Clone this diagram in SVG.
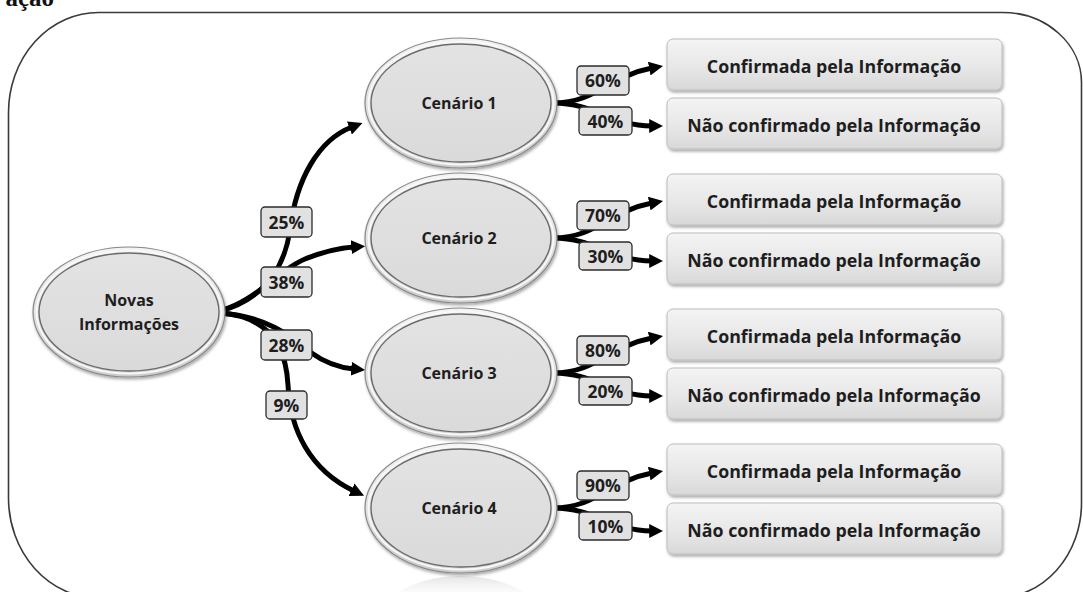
<svg xmlns="http://www.w3.org/2000/svg" xmlns:xlink="http://www.w3.org/1999/xlink" width="1083" height="592" viewBox="0 0 1083 592">
  <style>
    .frame { fill: none; stroke: #3a3a3a; stroke-width: 1.6; }
    .lbl { font-family: "Open Sans", "Liberation Sans", sans-serif; font-weight: 700; fill: #1e1e1e; text-anchor: middle; }
    .node-t { font-size: 16px; }
    .box-t { font-size: 17.8px; }
    .pct-t { font-size: 17.5px; }
    .box { fill: url(#boxGrad); stroke: #bcbcbc; stroke-width: 1; }
    .pct { fill: #e1e1e1; stroke: #2b2b2b; stroke-width: 1.3; }
    .conn { fill: none; stroke: #000; stroke-width: 5; stroke-linecap: butt; marker-end: url(#arrow); }
  </style>
  <defs>
    <linearGradient id="ringGrad" x1="0" y1="0" x2="0" y2="1">
      <stop offset="0" stop-color="#f4f4f4"/>
      <stop offset="1" stop-color="#cdcdcd"/>
    </linearGradient>
    <linearGradient id="coreGrad" x1="0" y1="0" x2="0" y2="1">
      <stop offset="0" stop-color="#e3e3e3"/>
      <stop offset="1" stop-color="#dadada"/>
    </linearGradient>
    <linearGradient id="boxGrad" x1="0" y1="0" x2="0" y2="1">
      <stop offset="0" stop-color="#f4f4f4"/>
      <stop offset="0.6" stop-color="#e6e6e6"/>
      <stop offset="1" stop-color="#d8d8d8"/>
    </linearGradient>
    <linearGradient id="reflGrad" x1="0" y1="0" x2="0" y2="1">
      <stop offset="0" stop-color="#d8d8d8" stop-opacity="0.7"/>
      <stop offset="0.2" stop-color="#ffffff" stop-opacity="0"/>
    </linearGradient>
    <filter id="shadow" x="-10%" y="-10%" width="125%" height="130%">
      <feDropShadow dx="1" dy="2" stdDeviation="1.4" flood-color="#000" flood-opacity="0.35"/>
    </filter>
    <marker id="arrow" viewBox="0 0 10 10" refX="2" refY="5" markerWidth="14" markerHeight="14" markerUnits="userSpaceOnUse" orient="auto">
      <path d="M0,0 L10,5 L0,10 z" fill="#000"/>
    </marker>
    <!-- double-ring oval used by every node -->
    <g id="bubble">
      <ellipse rx="96" ry="65" fill="url(#ringGrad)" stroke="#8a8a8a" stroke-width="1.2"/>
      <ellipse rx="92.5" ry="61.5" fill="none" stroke="#f8f8f8" stroke-width="2"/>
      <ellipse rx="90" ry="59" fill="url(#coreGrad)" stroke="#6b6b6b" stroke-width="1.4"/>
    </g>
  </defs>

  <rect width="1083" height="592" fill="#fff"/>

  <!-- caption fragment at the top edge -->
  <text x="54" y="6" text-anchor="end" font-family="Liberation Serif, serif" font-weight="700" font-size="25" fill="#111">ação</text>

  <!-- outer frame -->
  <path class="frame" d="M98.5,12.5 H1002.5 A79,70 0 0 1 1081.5,82.5 V503 A85,95 0 0 1 996.5,598 H98.5 A90,100 0 0 1 8.5,498 V112.5 A90,100 0 0 1 98.5,12.5 Z"/>

  <!-- reflection under the last scenario -->
  <ellipse cx="461" cy="641" rx="96" ry="65" fill="url(#reflGrad)"/>

  <!-- connectors -->
  <g id="connectors">
    <path class="conn" d="M220,311 C262,300 284,270 290,230 C296,180 318,140 352,127"/>
    <path class="conn" d="M220,311 C258,300 278,270 305,259 C325,251 340,248 354,247"/>
    <path class="conn" d="M220,313 C265,316 290,335 310,352 C328,365 342,368 354,369"/>
    <path class="conn" d="M220,313 C268,316 286,345 288,385 C290,430 310,470 354,491"/>

    <path class="conn" d="M553,103 C596,103 610,76 652,68"/>
    <path class="conn" d="M553,103 C596,103 610,126 652,126"/>
    <path class="conn" d="M553,238 C596,238 610,211 652,203"/>
    <path class="conn" d="M553,238 C596,238 610,261 652,261"/>
    <path class="conn" d="M553,373 C596,373 610,346 652,338"/>
    <path class="conn" d="M553,373 C596,373 610,396 652,396"/>
    <path class="conn" d="M553,508 C596,508 610,481 652,473"/>
    <path class="conn" d="M553,508 C596,508 610,531 652,531"/>
  </g>

  <!-- probability labels on the connectors -->
  <g id="labels">
    <rect class="pct" x="261" y="207" width="51" height="30" rx="4"/>
    <text class="lbl pct-t" x="286.5" y="228.5">25%</text>
    <rect class="pct" x="261" y="267" width="51" height="30" rx="4"/>
    <text class="lbl pct-t" x="286.5" y="288.5">38%</text>
    <rect class="pct" x="261" y="330" width="51" height="30" rx="4"/>
    <text class="lbl pct-t" x="286.5" y="351.5">28%</text>
    <rect class="pct" x="266" y="391" width="41" height="28" rx="4"/>
    <text class="lbl pct-t" x="286.5" y="411.5">9%</text>

    <rect class="pct" x="577" y="66" width="52" height="29" rx="4"/>
    <text class="lbl pct-t" x="603" y="87">60%</text>
    <rect class="pct" x="579" y="107" width="53" height="28" rx="4"/>
    <text class="lbl pct-t" x="605.5" y="127.5">40%</text>

    <rect class="pct" x="577" y="201" width="52" height="29" rx="4"/>
    <text class="lbl pct-t" x="603" y="222">70%</text>
    <rect class="pct" x="579" y="242" width="53" height="28" rx="4"/>
    <text class="lbl pct-t" x="605.5" y="262.5">30%</text>

    <rect class="pct" x="577" y="336" width="52" height="29" rx="4"/>
    <text class="lbl pct-t" x="603" y="357">80%</text>
    <rect class="pct" x="579" y="377" width="53" height="28" rx="4"/>
    <text class="lbl pct-t" x="605.5" y="397.5">20%</text>

    <rect class="pct" x="577" y="471" width="52" height="29" rx="4"/>
    <text class="lbl pct-t" x="603" y="492">90%</text>
    <rect class="pct" x="579" y="512" width="53" height="28" rx="4"/>
    <text class="lbl pct-t" x="605.5" y="532.5">10%</text>
  </g>

  <!-- source node -->
  <g id="novas-informacoes">
    <use xlink:href="#bubble" x="129" y="312" filter="url(#shadow)"/>
    <text class="lbl node-t" x="129" y="306">Novas</text>
    <text class="lbl node-t" x="129" y="330">Informações</text>
  </g>

  <!-- scenarios -->
  <g id="cenario-1">
    <use xlink:href="#bubble" x="461" y="103" filter="url(#shadow)"/>
    <text class="lbl node-t" x="459" y="109">Cenário 1</text>
  </g>
  <g id="cenario-2">
    <use xlink:href="#bubble" x="461" y="238" filter="url(#shadow)"/>
    <text class="lbl node-t" x="459" y="244">Cenário 2</text>
  </g>
  <g id="cenario-3">
    <use xlink:href="#bubble" x="461" y="373" filter="url(#shadow)"/>
    <text class="lbl node-t" x="459" y="379">Cenário 3</text>
  </g>
  <g id="cenario-4">
    <use xlink:href="#bubble" x="461" y="508" filter="url(#shadow)"/>
    <text class="lbl node-t" x="459" y="514">Cenário 4</text>
  </g>

  <!-- outcomes -->
  <g id="c1-confirmada">
    <rect class="box" x="667" y="39" width="335" height="51" rx="6" filter="url(#shadow)"/>
    <text class="lbl box-t" x="834" y="72.5">Confirmada pela Informação</text>
  </g>
  <g id="c1-nao-confirmado">
    <rect class="box" x="667" y="98" width="335" height="51" rx="6" filter="url(#shadow)"/>
    <text class="lbl box-t" x="834" y="131.5">Não confirmado pela Informação</text>
  </g>
  <g id="c2-confirmada">
    <rect class="box" x="667" y="174" width="335" height="51" rx="6" filter="url(#shadow)"/>
    <text class="lbl box-t" x="834" y="207.5">Confirmada pela Informação</text>
  </g>
  <g id="c2-nao-confirmado">
    <rect class="box" x="667" y="233" width="335" height="51" rx="6" filter="url(#shadow)"/>
    <text class="lbl box-t" x="834" y="266.5">Não confirmado pela Informação</text>
  </g>
  <g id="c3-confirmada">
    <rect class="box" x="667" y="309" width="335" height="51" rx="6" filter="url(#shadow)"/>
    <text class="lbl box-t" x="834" y="342.5">Confirmada pela Informação</text>
  </g>
  <g id="c3-nao-confirmado">
    <rect class="box" x="667" y="368" width="335" height="51" rx="6" filter="url(#shadow)"/>
    <text class="lbl box-t" x="834" y="401.5">Não confirmado pela Informação</text>
  </g>
  <g id="c4-confirmada">
    <rect class="box" x="667" y="444" width="335" height="51" rx="6" filter="url(#shadow)"/>
    <text class="lbl box-t" x="834" y="477.5">Confirmada pela Informação</text>
  </g>
  <g id="c4-nao-confirmado">
    <rect class="box" x="667" y="503" width="335" height="51" rx="6" filter="url(#shadow)"/>
    <text class="lbl box-t" x="834" y="536.5">Não confirmado pela Informação</text>
  </g>
</svg>
